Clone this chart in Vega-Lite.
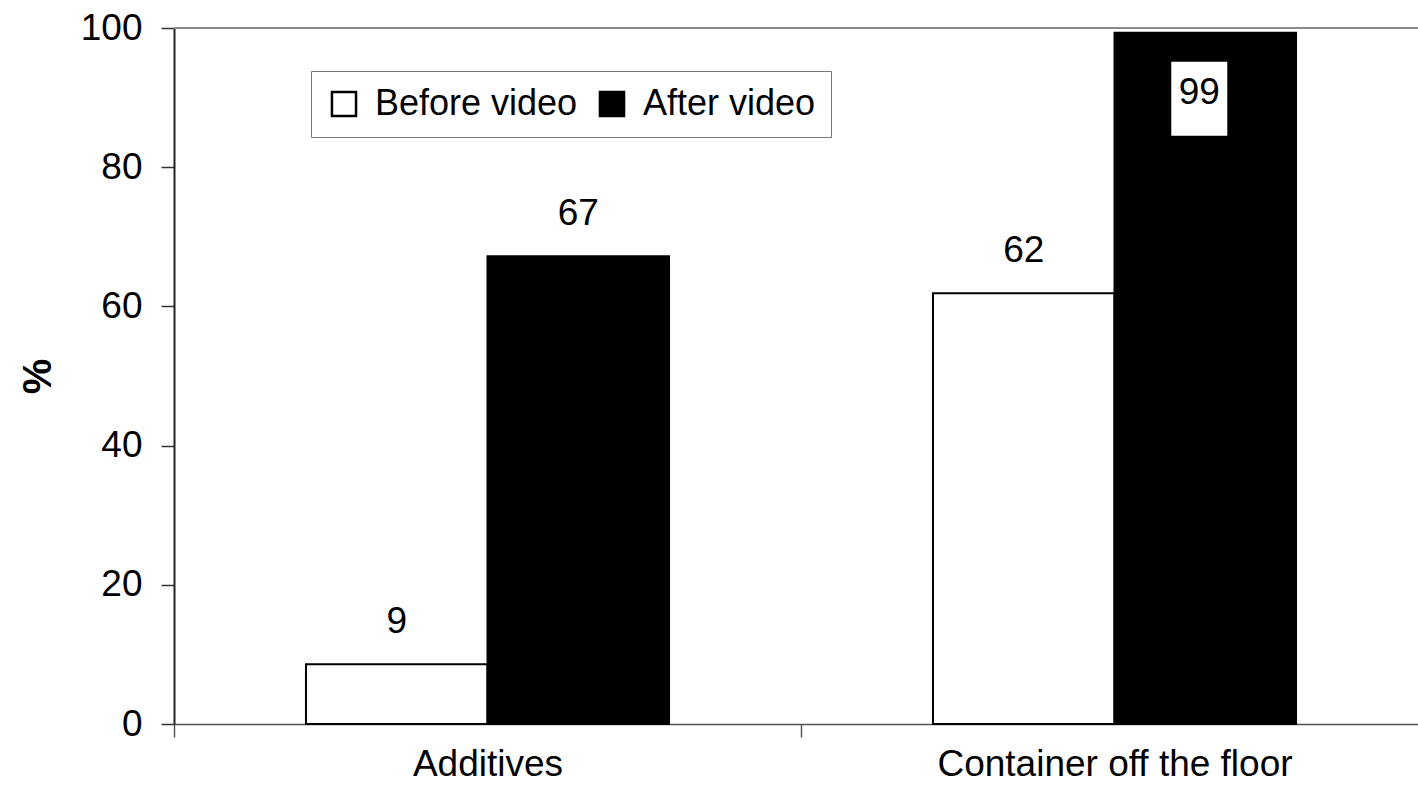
{
  "$schema": "https://vega.github.io/schema/vega-lite/v6.json",
  "autosize": "none",
  "padding": {"left": 174, "top": 28, "right": 0, "bottom": 74},
  "width": 1254,
  "height": 696,
  "background": "white",
  "config": {
    "font": "Liberation Sans",
    "view": {"stroke": null}
  },
  "data": {
    "values": [
      {"item": "Additives", "group": "Before video", "value": 8.6, "label": "9"},
      {"item": "Additives", "group": "After video", "value": 67.2, "label": "67"},
      {"item": "Container off the floor", "group": "Before video", "value": 61.9, "label": "62"},
      {"item": "Container off the floor", "group": "After video", "value": 99.3, "label": "99"}
    ]
  },
  "encoding": {
    "x": {
      "field": "item", "type": "nominal", "sort": null,
      "scale": {"paddingInner": 0, "paddingOuter": 0},
      "axis": {
        "title": null, "labelAngle": 0, "labelFontSize": 37, "labelColor": "black", "labelLimit": 1000,
        "tickBand": "extent", "tickSize": 13, "tickColor": "#555", "domainColor": "#555",
        "labelPadding": 9, "tickWidth": 1.5, "domainWidth": 1.5
      }
    },
    "xOffset": {
      "field": "group", "type": "nominal", "sort": ["Before video", "After video"],
      "scale": {"paddingInner": 0, "paddingOuter": 0.727}
    },
    "y": {
      "field": "value", "type": "quantitative",
      "scale": {"domain": [0, 100], "nice": false},
      "axis": {
        "title": "%", "titleFontSize": 40, "titleFontWeight": "bold", "titleColor": "black",
        "titlePadding": 22,
        "values": [0, 20, 40, 60, 80, 100], "grid": false,
        "labelFontSize": 37, "labelColor": "black", "tickSize": 13, "labelPadding": 19,
        "tickColor": "#333", "domainColor": "#222", "domainWidth": 2, "tickWidth": 1.5
      }
    }
  },
  "layer": [
    {
      "mark": {"type": "rule", "color": "#8a8a8a", "strokeWidth": 2},
      "encoding": {"y": {"datum": 100}, "x": {"value": 0}, "x2": {"value": 1254}, "xOffset": null}
    },
    {
      "mark": {"type": "bar", "stroke": "black", "strokeWidth": 2},
      "encoding": {
        "fill": {
          "field": "group", "type": "nominal",
          "sort": ["Before video", "After video"],
          "scale": {"domain": ["Before video", "After video"], "range": ["white", "black"]},
          "legend": {
            "title": null, "orient": "none", "legendX": 137, "legendY": 43,
            "direction": "horizontal", "symbolType": "square", "symbolSize": 580,
            "symbolStrokeColor": "black", "symbolStrokeWidth": 2.5,
            "labelFontSize": 36, "labelColor": "black", "labelLimit": 1000,
            "columnPadding": 16, "labelOffset": 13,
            "strokeColor": "#777", "fillColor": "white", "padding": 15
          }
        }
      }
    },
    {
      "transform": [{"filter": "datum.value < 90"}],
      "mark": {"type": "text", "fontSize": 37, "color": "black", "baseline": "middle", "dy": -42},
      "encoding": {"text": {"field": "label"}}
    },
    {
      "transform": [{"filter": "datum.value >= 90"}],
      "mark": {"type": "point", "shape": "M-0.919,-1H0.595V1H-0.919Z", "filled": true, "color": "white", "opacity": 1, "size": 5476, "yOffset": 66},
      "encoding": {}
    },
    {
      "transform": [{"filter": "datum.value >= 90"}],
      "mark": {"type": "text", "fontSize": 37, "color": "black", "baseline": "middle", "dy": 60, "dx": -6},
      "encoding": {"text": {"field": "label"}}
    }
  ]
}
